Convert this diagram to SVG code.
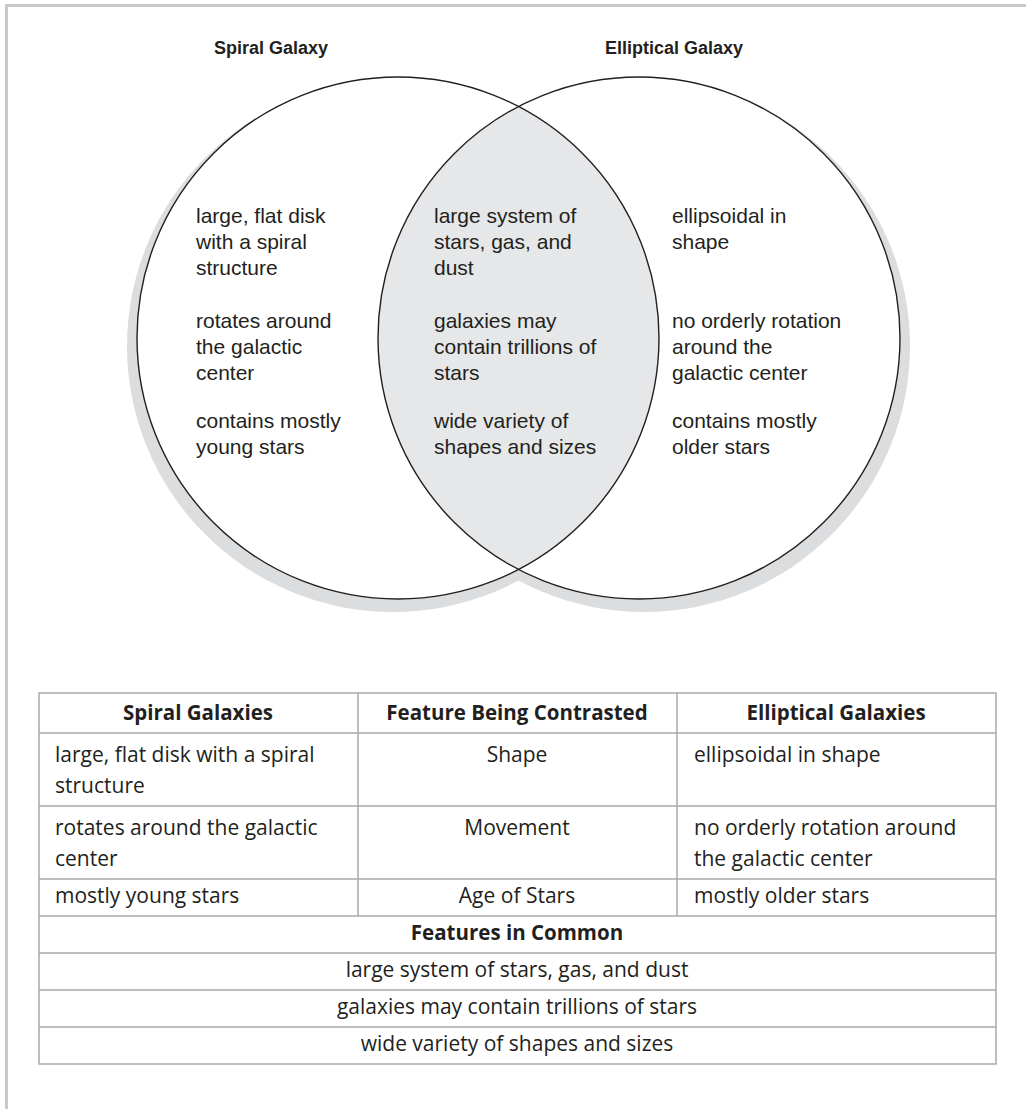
<svg xmlns="http://www.w3.org/2000/svg" width="1026" height="1109" viewBox="0 0 1026 1109">
  <defs>
    <style>
      .frame { fill: none; stroke: #c8c9cb; stroke-width: 3; }
      .shadow { fill: #dcdddf; }
      .disk { fill: #ffffff; }
      .ring { fill: none; stroke: #231f20; stroke-width: 1.4; }
      .overlap { fill: #e6e7e8; }
      .title { font-family: "Liberation Sans", Arial, sans-serif; font-weight: bold; font-size: 18px; fill: #231f20; text-anchor: middle; }
      .item { font-family: "Liberation Sans", Arial, sans-serif; font-size: 21px; fill: #231f20; }
      .grid { fill: none; stroke: #a7a9ac; stroke-width: 1.5; }
      .cell { font-family: "Open Sans", "Noto Sans", sans-serif; font-size: 21px; fill: #231f20; }
      .head { font-family: "Open Sans", "Noto Sans", sans-serif; font-size: 20.5px; font-weight: bold; fill: #231f20; text-anchor: middle; }
      .mid { text-anchor: middle; }
    </style>
    <clipPath id="clip-spiral">
      <circle cx="398" cy="338" r="261"/>
    </clipPath>
  </defs>

  <!-- page frame (top and left edges) -->
  <path class="frame" d="M1026 5.5 H6.5 V1109"/>

  <!-- Venn diagram -->
  <g id="venn">
    <circle class="shadow" cx="393" cy="346" r="266"/>
    <circle class="shadow" cx="644" cy="346" r="266"/>
    <circle class="disk" cx="398" cy="338" r="261"/>
    <circle class="disk" cx="639" cy="338" r="261"/>
    <circle class="overlap" cx="639" cy="338" r="261" clip-path="url(#clip-spiral)"/>
    <circle class="ring" cx="398" cy="338" r="261"/>
    <circle class="ring" cx="639" cy="338" r="261"/>
  </g>

  <g id="spiral-galaxy">
    <text class="title" x="271" y="54">Spiral Galaxy</text>
    <text class="item" x="196" y="223">large, flat disk</text>
    <text class="item" x="196" y="249">with a spiral</text>
    <text class="item" x="196" y="275">structure</text>
    <text class="item" x="196" y="328">rotates around</text>
    <text class="item" x="196" y="354">the galactic</text>
    <text class="item" x="196" y="380">center</text>
    <text class="item" x="196" y="428">contains mostly</text>
    <text class="item" x="196" y="454">young stars</text>
  </g>

  <g id="common">
    <text class="item" x="434" y="223">large system of</text>
    <text class="item" x="434" y="249">stars, gas, and</text>
    <text class="item" x="434" y="275">dust</text>
    <text class="item" x="434" y="328">galaxies may</text>
    <text class="item" x="434" y="354">contain trillions of</text>
    <text class="item" x="434" y="380">stars</text>
    <text class="item" x="434" y="428">wide variety of</text>
    <text class="item" x="434" y="454">shapes and sizes</text>
  </g>

  <g id="elliptical-galaxy">
    <text class="title" x="674" y="54">Elliptical Galaxy</text>
    <text class="item" x="672" y="223">ellipsoidal in</text>
    <text class="item" x="672" y="249">shape</text>
    <text class="item" x="672" y="328">no orderly rotation</text>
    <text class="item" x="672" y="354">around the</text>
    <text class="item" x="672" y="380">galactic center</text>
    <text class="item" x="672" y="428">contains mostly</text>
    <text class="item" x="672" y="454">older stars</text>
  </g>

  <!-- comparison table -->
  <g id="table">
    <rect class="grid" x="39" y="693" width="957" height="371"/>
    <path class="grid" d="M39 733 H996 M39 806 H996 M39 879 H996 M39 916 H996 M39 953 H996 M39 990 H996 M39 1027 H996"/>
    <path class="grid" d="M358 693 V916 M677 693 V916"/>

    <text class="head" x="198" y="720">Spiral Galaxies</text>
    <text class="head" x="517" y="720">Feature Being Contrasted</text>
    <text class="head" x="836" y="720">Elliptical Galaxies</text>

    <text class="cell" x="55" y="762">large, flat disk with a spiral</text>
    <text class="cell" x="55" y="793">structure</text>
    <text class="cell mid" x="517" y="762">Shape</text>
    <text class="cell" x="694" y="762">ellipsoidal in shape</text>

    <text class="cell" x="55" y="835">rotates around the galactic</text>
    <text class="cell" x="55" y="866">center</text>
    <text class="cell mid" x="517" y="835">Movement</text>
    <text class="cell" x="694" y="835">no orderly rotation around</text>
    <text class="cell" x="694" y="866">the galactic center</text>

    <text class="cell" x="55" y="903">mostly young stars</text>
    <text class="cell mid" x="517" y="903">Age of Stars</text>
    <text class="cell" x="694" y="903">mostly older stars</text>

    <text class="head" x="517" y="940">Features in Common</text>
    <text class="cell mid" x="517" y="977">large system of stars, gas, and dust</text>
    <text class="cell mid" x="517" y="1014">galaxies may contain trillions of stars</text>
    <text class="cell mid" x="517" y="1051">wide variety of shapes and sizes</text>
  </g>
</svg>
